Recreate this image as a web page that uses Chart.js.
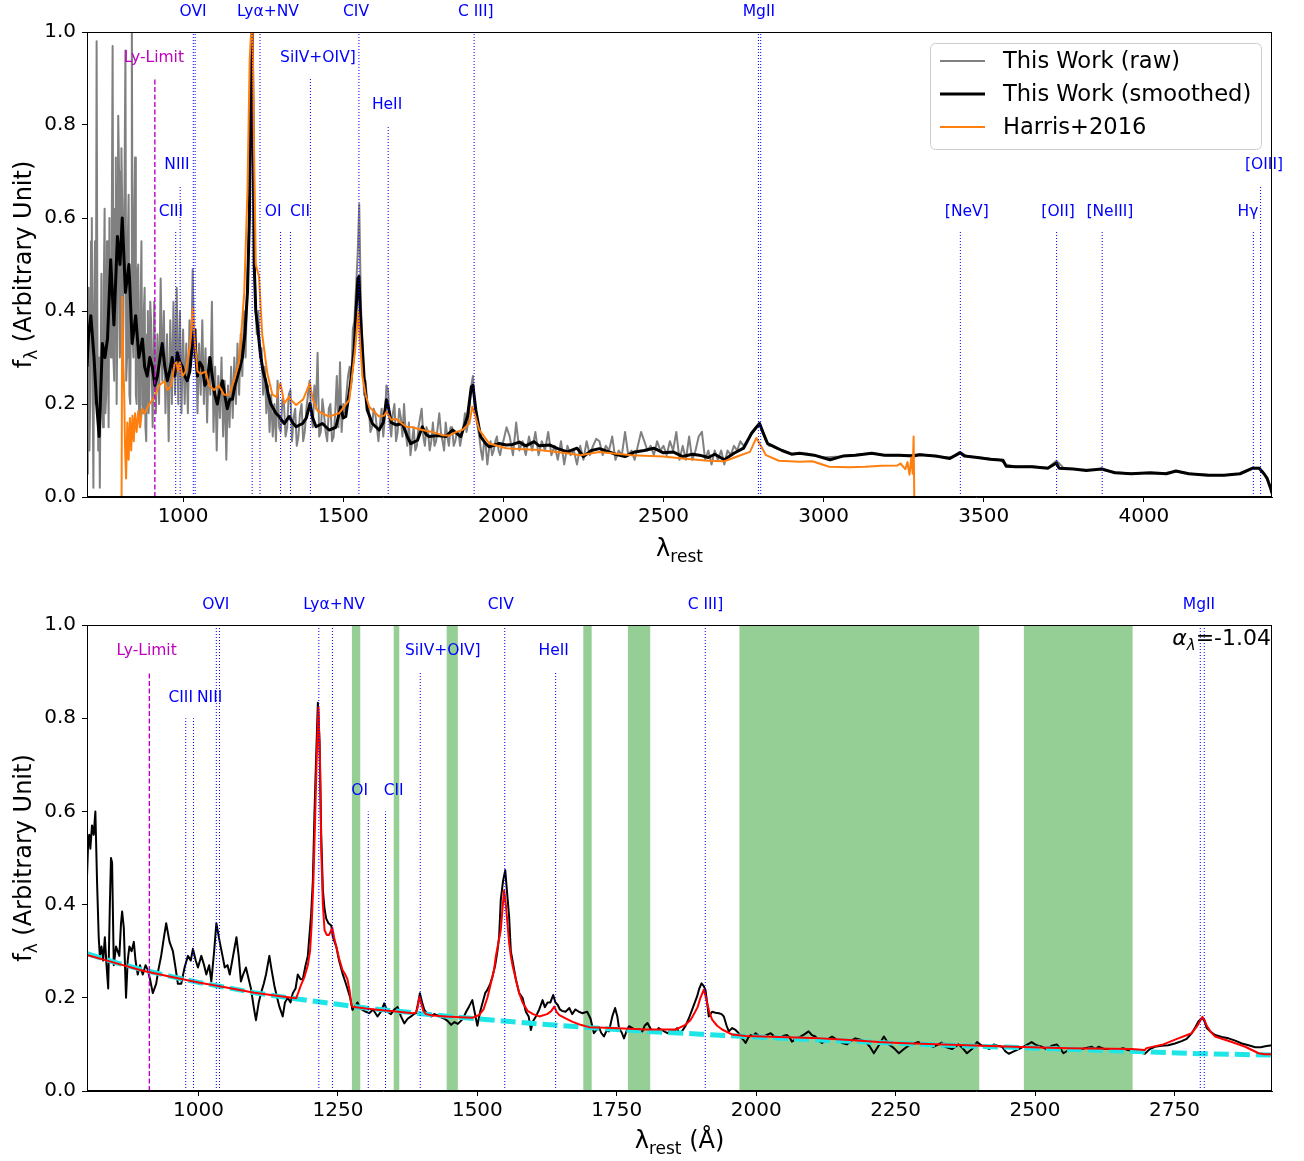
<!DOCTYPE html>
<html>
<head>
<meta charset="utf-8">
<script src="https://cdn.jsdelivr.net/npm/chart.js@4.4.0/dist/chart.umd.min.js"></script>
<style>
  html, body { margin: 0; padding: 0; background: #fff; }
  #top { position: absolute; left: 0; top: 0; width: 1304px; height: 575px; }
  #bot { position: absolute; left: 0; top: 575px; width: 1304px; height: 586px; }
</style>
</head>
<body>
<div id="top"><canvas id="cTop"></canvas></div>
<div id="bot"><canvas id="cBot"></canvas></div>
<script>
// ---- data: [wavelength (A), flux] ----
const rawTop = [
  [700,0.05],[702.5,0.30],[705,0.45],[707.5,0.10],[710,0.20],[712.5,0.55],[715,0.60],[717.5,0.25],[720,0.02],[722.5,0.40],
  [725,0.55],[727.5,0.20],[730,0.98],[732.5,0.35],[735,0.10],[737.5,0.30],[740,0.02],[742.5,0.25],[745,0.48],[747.5,0.20],
  [750,0.15],[752.5,0.45],[755,0.62],[757.5,0.18],[760,0.22],[762.5,0.55],[765,0.40],[767.5,0.15],[770,0.60],[772.5,0.35],
  [775,0.30],[777.5,0.60],[780,0.97],[782.5,0.30],[785,0.25],[787.5,0.62],[790,0.73],[792.5,0.20],[795,0.40],[797.5,0.82],
  [800,0.70],[802.5,0.30],[805,0.35],[807.5,0.75],[810,0.62],[812.5,0.30],[815,0.30],[817.5,0.70],[820,0.96],[822.5,0.25],
  [825,0.30],[827.5,0.55],[830,0.65],[832.5,0.22],[835,0.20],[837.5,0.45],[840,1.05],[842.5,0.35],[845,0.30],[847.5,0.60],
  [850,0.73],[852.5,0.22],[855,0.20],[857.5,0.48],[860,0.50],[862.5,0.18],[865,0.15],[867.5,0.42],[870,0.55],[872.5,0.20],
  [875,0.18],[877.5,0.40],[880,0.45],[882.5,0.15],[885,0.12],[887.5,0.35],[890,0.40],[892.5,0.18],[895,0.25],[897.5,0.42],
  [900,0.38],[905,0.15],[910,0.42],[915,0.18],[920,0.35],[925,0.20],[930,0.47],[935,0.25],[940,0.40],[945,0.18],
  [950,0.35],[955,0.12],[960,0.38],[965,0.20],[970,0.42],[975,0.22],[980,0.45],[985,0.20],[990,0.40],[995,0.18],
  [1000,0.36],[1005,0.20],[1010,0.33],[1015,0.18],[1020,0.38],[1025,0.28],[1030,0.49],[1035,0.30],[1040,0.36],[1045,0.18],
  [1050,0.33],[1055,0.22],[1060,0.38],[1065,0.20],[1070,0.32],[1075,0.16],[1080,0.30],[1085,0.22],[1090,0.42],[1095,0.14],
  [1100,0.28],[1105,0.10],[1110,0.26],[1115,0.17],[1120,0.30],[1125,0.13],[1130,0.25],[1135,0.08],[1140,0.24],[1145,0.15],
  [1150,0.28],[1155,0.17],[1160,0.30],[1165,0.20],[1170,0.33],[1175,0.22],[1180,0.35],[1185,0.26],[1190,0.40],[1195,0.30],
  [1200,0.45],[1205,0.55],[1210,0.85],[1215,1.05],[1220,0.70],[1225,0.45],[1230,0.35],[1235,0.40],[1240,0.30],[1245,0.32],
  [1250,0.22],[1255,0.28],[1260,0.18],[1265,0.24],[1270,0.14],[1275,0.22],[1280,0.13],[1285,0.20],[1290,0.12],[1295,0.25],
  [1300,0.15],[1305,0.14],[1310,0.21],[1315,0.20],[1320,0.13],[1325,0.15],[1330,0.22],[1335,0.23],[1340,0.12],[1345,0.17],
  [1350,0.19],[1355,0.11],[1360,0.13],[1365,0.18],[1370,0.20],[1375,0.12],[1380,0.14],[1385,0.19],[1390,0.22],[1395,0.25],
  [1400,0.18],[1405,0.15],[1410,0.24],[1415,0.19],[1420,0.31],[1425,0.13],[1430,0.14],[1435,0.21],[1440,0.18],[1445,0.14],
  [1450,0.12],[1455,0.19],[1460,0.20],[1465,0.12],[1470,0.13],[1475,0.18],[1480,0.26],[1485,0.15],[1490,0.29],[1495,0.14],
  [1500,0.20],[1505,0.18],[1510,0.22],[1515,0.26],[1520,0.28],[1525,0.24],[1530,0.36],[1535,0.38],[1540,0.45],[1545,0.52],
  [1550,0.63],[1555,0.42],[1560,0.32],[1565,0.22],[1570,0.25],[1575,0.20],[1580,0.19],[1585,0.14],[1590,0.15],[1595,0.19],
  [1600,0.18],[1605,0.15],[1610,0.12],[1615,0.16],[1620,0.19],[1625,0.13],[1630,0.17],[1635,0.24],[1640,0.23],[1645,0.16],
  [1650,0.13],[1655,0.18],[1660,0.20],[1665,0.12],[1670,0.14],[1675,0.19],[1680,0.17],[1685,0.13],[1690,0.20],[1695,0.14],
  [1700,0.11],[1705,0.16],[1710,0.09],[1715,0.12],[1720,0.15],[1725,0.10],[1730,0.11],[1735,0.15],[1740,0.17],[1745,0.19],
  [1750,0.13],[1755,0.11],[1760,0.15],[1765,0.14],[1770,0.10],[1775,0.12],[1780,0.16],[1785,0.11],[1790,0.12],[1795,0.15],
  [1800,0.18],[1805,0.14],[1810,0.12],[1815,0.10],[1820,0.16],[1825,0.13],[1830,0.11],[1835,0.15],[1840,0.15],[1845,0.11],
  [1850,0.12],[1855,0.14],[1860,0.14],[1865,0.11],[1870,0.13],[1875,0.15],[1880,0.18],[1885,0.14],[1890,0.16],[1895,0.20],
  [1900,0.24],[1905,0.26],[1910,0.20],[1915,0.17],[1920,0.15],[1925,0.13],[1930,0.10],[1935,0.08],[1940,0.12],[1945,0.11],
  [1950,0.07],[1955,0.10],[1960,0.12],[1965,0.09],[1970,0.10],[1975,0.12],[1980,0.13],[1985,0.10],[1990,0.09],[1995,0.11],
  [2000,0.12],[2010,0.15],[2020,0.13],[2030,0.09],[2040,0.16],[2050,0.10],[2060,0.12],[2070,0.09],[2080,0.13],[2090,0.10],
  [2100,0.14],[2110,0.09],[2120,0.12],[2130,0.10],[2140,0.14],[2150,0.09],[2160,0.11],[2170,0.08],[2180,0.12],[2190,0.07],
  [2200,0.11],[2210,0.09],[2220,0.10],[2230,0.07],[2240,0.11],[2250,0.08],[2260,0.12],[2270,0.09],[2280,0.11],[2290,0.125],
  [2300,0.12],[2310,0.09],[2320,0.11],[2330,0.10],[2340,0.13],[2350,0.08],[2360,0.10],[2370,0.09],[2380,0.14],[2390,0.09],
  [2400,0.10],[2410,0.08],[2420,0.11],[2430,0.14],[2440,0.12],[2450,0.10],[2460,0.11],[2470,0.09],[2480,0.12],[2490,0.10],
  [2500,0.11],[2510,0.09],[2520,0.12],[2530,0.10],[2540,0.14],[2550,0.08],[2560,0.11],[2570,0.08],[2580,0.13],[2590,0.08],
  [2600,0.10],[2610,0.13],[2620,0.14],[2630,0.08],[2640,0.10],[2650,0.07],[2660,0.10],[2670,0.08],[2680,0.10],[2690,0.07],
  [2700,0.10],[2710,0.09],[2720,0.11],[2730,0.10],[2740,0.12],[2750,0.11],[2760,0.12],[2770,0.13],[2780,0.14],[2790,0.15],
  [2800,0.16],[2810,0.14],[2820,0.12],[2830,0.11],[2840,0.11],[2850,0.105],[2900,0.093],[2950,0.093],[3000,0.085],[3050,0.087],
  [3100,0.091],[3150,0.094],[3200,0.089],[3250,0.089],[3300,0.092],[3350,0.087],[3400,0.085],[3425,0.097],[3450,0.087],[3500,0.084],
  [3550,0.080],[3570,0.070],[3600,0.065],[3650,0.066],[3700,0.063],[3727,0.078],[3750,0.062],[3800,0.059],[3850,0.058],[3870,0.062],
  [3900,0.054],[3950,0.051],[4000,0.051],[4050,0.050],[4100,0.055],[4150,0.050],[4200,0.048],[4250,0.047],[4300,0.050],[4340,0.063],
  [4360,0.063],[4380,0.045],[4395,0.020]
];

const smoothTop = [
  [700,0.28],[705,0.35],[712,0.39],[722,0.30],[730,0.20],[738,0.13],[748,0.33],[756,0.30],[764,0.34],[774,0.51],
  [784,0.37],[795,0.56],[803,0.50],[810,0.60],[820,0.44],[831,0.50],[841,0.33],[852,0.39],[862,0.30],[873,0.34],
  [880,0.28],[888,0.26],[896,0.30],[904,0.28],[912,0.24],[920,0.26],[928,0.30],[935,0.33],[943,0.28],[951,0.25],
  [958,0.27],[966,0.30],[974,0.26],[982,0.31],[990,0.29],[998,0.28],[1005,0.26],[1013,0.25],[1021,0.27],[1029,0.33],
  [1035,0.36],[1041,0.29],[1045,0.26],[1052,0.29],[1060,0.28],[1068,0.24],[1076,0.25],[1084,0.30],[1091,0.26],[1099,0.22],
  [1107,0.20],[1115,0.23],[1123,0.25],[1130,0.22],[1138,0.19],[1146,0.21],[1154,0.21],[1162,0.24],[1170,0.26],[1178,0.28],
  [1185,0.30],[1193,0.35],[1201,0.44],[1207,0.60],[1212,0.90],[1216,1.0],[1219,0.75],[1222,0.50],[1227,0.40],[1232,0.37],
  [1238,0.33],[1243,0.30],[1250,0.27],[1258,0.25],[1266,0.22],[1274,0.20],[1282,0.19],[1290,0.18],[1300,0.173],[1316,0.158],
  [1331,0.173],[1342,0.16],[1353,0.151],[1373,0.158],[1385,0.17],[1396,0.201],[1405,0.17],[1415,0.151],[1435,0.158],[1456,0.144],
  [1477,0.15],[1492,0.194],[1500,0.17],[1508,0.173],[1523,0.245],[1534,0.316],[1540,0.40],[1546,0.47],[1549,0.474],[1554,0.388],
  [1565,0.259],[1575,0.187],[1591,0.158],[1612,0.144],[1625,0.16],[1635,0.209],[1642,0.19],[1650,0.16],[1665,0.155],[1685,0.158],
  [1700,0.13],[1711,0.115],[1732,0.122],[1747,0.151],[1758,0.135],[1768,0.13],[1794,0.132],[1820,0.13],[1841,0.144],[1867,0.13],
  [1888,0.173],[1900,0.237],[1905,0.24],[1914,0.187],[1929,0.13],[1945,0.115],[1956,0.108],[1987,0.115],[2009,0.112],[2029,0.113],
  [2050,0.118],[2070,0.11],[2096,0.119],[2112,0.11],[2144,0.112],[2170,0.104],[2200,0.097],[2230,0.105],[2250,0.087],[2275,0.10],
  [2300,0.104],[2330,0.097],[2350,0.092],[2380,0.087],[2410,0.097],[2440,0.10],[2470,0.105],[2500,0.095],[2530,0.097],[2560,0.087],
  [2590,0.092],[2612,0.09],[2640,0.085],[2660,0.092],[2690,0.08],[2720,0.094],[2750,0.105],[2775,0.137],[2790,0.15],[2800,0.158],
  [2810,0.14],[2825,0.115],[2840,0.11],[2870,0.10],[2900,0.092],[2925,0.094],[2970,0.09],[3020,0.08],[3060,0.088],[3100,0.09],
  [3150,0.094],[3190,0.09],[3237,0.09],[3280,0.088],[3300,0.091],[3350,0.088],[3394,0.083],[3426,0.095],[3440,0.088],[3480,0.085],
  [3520,0.081],[3560,0.079],[3570,0.066],[3600,0.065],[3650,0.065],[3700,0.062],[3727,0.073],[3735,0.062],[3780,0.06],[3820,0.057],
  [3868,0.06],[3910,0.052],[3960,0.05],[4020,0.052],[4070,0.05],[4100,0.056],[4140,0.05],[4200,0.047],[4250,0.047],[4300,0.05],
  [4340,0.062],[4360,0.062],[4375,0.05],[4385,0.04],[4395,0.02],[4400,0.008]
];

const harrisTop = [
  [700,0],[808,0],[810,0.43],[813,0.30],[816,0.226],[819,0.10],[822,0.04],[826,0.16],[830,0.08],[834,0.17],
  [838,0.10],[842,0.175],[846,0.12],[850,0.18],[855,0.14],[860,0.185],[866,0.15],[872,0.19],[880,0.18],[890,0.195],
  [900,0.205],[909,0.212],[925,0.24],[941,0.249],[951,0.23],[963,0.24],[973,0.284],[979,0.29],[984,0.27],[990,0.29],
  [998,0.26],[1008,0.27],[1022,0.327],[1030,0.406],[1037,0.33],[1045,0.27],[1055,0.265],[1071,0.27],[1081,0.24],[1097,0.23],
  [1112,0.24],[1128,0.22],[1144,0.22],[1159,0.25],[1175,0.29],[1191,0.44],[1201,0.657],[1208,0.94],[1216,1.05],[1222,0.73],
  [1227,0.50],[1237,0.474],[1247,0.35],[1263,0.266],[1279,0.22],[1292,0.215],[1300,0.237],[1304,0.245],[1316,0.201],[1331,0.216],
  [1335,0.21],[1353,0.198],[1375,0.21],[1390,0.235],[1396,0.245],[1405,0.21],[1420,0.185],[1456,0.173],[1487,0.18],[1519,0.209],
  [1537,0.316],[1547,0.399],[1553,0.33],[1560,0.259],[1570,0.22],[1581,0.194],[1612,0.173],[1628,0.175],[1635,0.183],[1650,0.166],
  [1665,0.168],[1697,0.151],[1716,0.15],[1747,0.144],[1778,0.14],[1809,0.133],[1831,0.132],[1853,0.14],[1872,0.144],[1894,0.158],
  [1903,0.194],[1910,0.18],[1925,0.144],[1956,0.115],[2009,0.105],[2050,0.103],[2112,0.101],[2200,0.094],[2240,0.09],[2300,0.097],
  [2400,0.09],[2500,0.087],[2560,0.083],[2640,0.078],[2690,0.077],[2730,0.087],[2770,0.097],[2790,0.127],[2800,0.115],[2820,0.09],
  [2860,0.078],[2925,0.076],[2965,0.077],[3017,0.065],[3080,0.064],[3130,0.065],[3180,0.067],[3230,0.068],[3240,0.072],[3255,0.06],
  [3262,0.075],[3268,0.048],[3274,0.085],[3278,0.05],[3281,0.13],[3283,0],[3980,0]
];

const smoothBot = [
  [800,0.46],[802,0.53],[804,0.55],[806,0.52],[809,0.57],[812,0.55],[815,0.60],[818,0.45],[821,0.33],[823,0.29],
  [826,0.31],[829,0.28],[832,0.33],[835,0.27],[838,0.22],[841,0.40],[843,0.50],[845,0.49],[848,0.27],[852,0.31],
  [855,0.30],[858,0.29],[861,0.36],[863,0.385],[866,0.35],[870,0.20],[873,0.28],[876,0.31],[880,0.30],[884,0.32],
  [887,0.28],[891,0.25],[895,0.27],[900,0.25],[905,0.27],[909,0.26],[913,0.24],[918,0.21],[924,0.23],[928,0.26],
  [933,0.29],[938,0.33],[942,0.36],[945,0.34],[948,0.32],[954,0.30],[958,0.27],[963,0.23],[969,0.23],[975,0.265],
  [981,0.29],[986,0.28],[990,0.305],[995,0.28],[999,0.265],[1005,0.29],[1010,0.27],[1014,0.25],[1019,0.27],[1023,0.235],
  [1028,0.30],[1032,0.36],[1035,0.34],[1038,0.32],[1043,0.29],[1047,0.265],[1052,0.27],[1056,0.25],[1062,0.29],[1068,0.33],
  [1072,0.29],[1076,0.235],[1080,0.25],[1085,0.265],[1090,0.24],[1094,0.22],[1099,0.18],[1103,0.152],[1108,0.19],[1112,0.21],
  [1117,0.23],[1121,0.25],[1127,0.29],[1131,0.26],[1136,0.226],[1141,0.20],[1145,0.181],[1151,0.16],[1155,0.19],[1160,0.20],
  [1165,0.19],[1169,0.21],[1174,0.22],[1178,0.25],[1183,0.24],[1187,0.24],[1192,0.27],[1196,0.29],[1202,0.38],[1205,0.45],
  [1208,0.60],[1211,0.72],[1214,0.833],[1217,0.75],[1220,0.55],[1223,0.43],[1226,0.39],[1229,0.37],[1233,0.36],[1238,0.355],
  [1241,0.33],[1244,0.32],[1247,0.31],[1252,0.28],[1258,0.253],[1263,0.235],[1267,0.22],[1272,0.20],[1276,0.174],[1280,0.18],
  [1285,0.19],[1290,0.177],[1294,0.174],[1300,0.17],[1306,0.167],[1313,0.175],[1321,0.16],[1327,0.17],[1333,0.188],[1339,0.17],
  [1345,0.165],[1351,0.175],[1357,0.18],[1363,0.16],[1369,0.145],[1375,0.155],[1381,0.16],[1386,0.165],[1390,0.167],[1394,0.19],
  [1397,0.21],[1401,0.19],[1405,0.174],[1411,0.165],[1417,0.16],[1423,0.165],[1429,0.162],[1435,0.158],[1441,0.155],[1447,0.15],
  [1453,0.142],[1459,0.148],[1465,0.144],[1470,0.15],[1474,0.155],[1480,0.17],[1485,0.181],[1491,0.195],[1495,0.17],[1500,0.14],
  [1505,0.17],[1509,0.188],[1514,0.21],[1518,0.217],[1523,0.23],[1527,0.245],[1532,0.27],[1536,0.30],[1539,0.33],[1542,0.41],
  [1546,0.45],[1550,0.474],[1553,0.43],[1557,0.374],[1560,0.30],[1563,0.28],[1569,0.24],[1575,0.21],[1581,0.20],[1587,0.17],
  [1592,0.16],[1596,0.131],[1600,0.15],[1605,0.16],[1611,0.175],[1617,0.195],[1621,0.18],[1626,0.19],[1631,0.19],[1636,0.206],
  [1640,0.19],[1644,0.185],[1648,0.175],[1652,0.172],[1658,0.17],[1665,0.178],[1670,0.165],[1676,0.175],[1682,0.17],[1688,0.167],
  [1697,0.17],[1703,0.155],[1709,0.124],[1713,0.13],[1718,0.137],[1722,0.125],[1727,0.117],[1732,0.13],[1736,0.128],[1742,0.16],
  [1747,0.178],[1751,0.16],[1754,0.135],[1759,0.125],[1763,0.113],[1768,0.13],[1772,0.139],[1778,0.135],[1784,0.13],[1790,0.133],
  [1796,0.128],[1800,0.14],[1805,0.146],[1810,0.135],[1814,0.128],[1820,0.125],[1825,0.135],[1829,0.132],[1835,0.128],[1841,0.124],
  [1847,0.13],[1853,0.128],[1858,0.135],[1862,0.124],[1868,0.13],[1873,0.139],[1879,0.155],[1885,0.174],[1890,0.19],[1894,0.203],
  [1898,0.22],[1902,0.231],[1906,0.225],[1909,0.217],[1912,0.19],[1915,0.16],[1918,0.165],[1921,0.17],[1927,0.168],[1933,0.167],
  [1938,0.165],[1942,0.16],[1947,0.14],[1951,0.128],[1957,0.135],[1963,0.131],[1968,0.125],[1972,0.117],[1977,0.11],[1981,0.103],
  [1986,0.115],[1990,0.12],[1995,0.118],[1999,0.124],[2005,0.118],[2011,0.113],[2018,0.12],[2026,0.124],[2033,0.117],[2041,0.113],
  [2048,0.118],[2055,0.12],[2060,0.115],[2064,0.106],[2072,0.112],[2080,0.117],[2087,0.122],[2094,0.128],[2100,0.12],[2106,0.117],
  [2112,0.108],[2118,0.103],[2127,0.11],[2136,0.117],[2145,0.11],[2154,0.103],[2163,0.10],[2170,0.108],[2178,0.113],[2187,0.11],
  [2196,0.106],[2204,0.095],[2211,0.081],[2220,0.098],[2229,0.117],[2238,0.10],[2247,0.092],[2256,0.081],[2265,0.09],[2274,0.098],
  [2283,0.102],[2291,0.105],[2300,0.10],[2309,0.098],[2318,0.095],[2327,0.10],[2333,0.104],[2339,0.095],[2351,0.09],[2363,0.10],
  [2370,0.092],[2378,0.081],[2387,0.09],[2396,0.105],[2404,0.098],[2411,0.095],[2418,0.09],[2426,0.10],[2433,0.097],[2441,0.095],
  [2447,0.085],[2453,0.08],[2462,0.085],[2471,0.09],[2482,0.097],[2494,0.105],[2503,0.098],[2512,0.095],[2520,0.09],[2530,0.097],
  [2539,0.10],[2545,0.092],[2551,0.081],[2560,0.088],[2569,0.09],[2578,0.088],[2590,0.092],[2602,0.095],[2608,0.09],[2614,0.095],
  [2625,0.09],[2637,0.09],[2647,0.088],[2658,0.092],[2666,0.088],[2673,0.087],[2685,0.085],[2697,0.08],[2706,0.09],[2715,0.095],
  [2727,0.097],[2739,0.098],[2751,0.102],[2763,0.107],[2772,0.112],[2781,0.124],[2788,0.138],[2793,0.149],[2800,0.157],[2804,0.15],
  [2808,0.135],[2815,0.127],[2823,0.12],[2835,0.116],[2847,0.113],[2859,0.108],[2871,0.102],[2883,0.098],[2895,0.094],[2905,0.094],
  [2913,0.096],[2925,0.098]
];

const modelBot = [
  [800,0.292],[850,0.275],[900,0.258],[950,0.245],[1000,0.233],[1050,0.222],[1100,0.211],[1150,0.203],[1175,0.199],[1177,0.205],
  [1183,0.225],[1190,0.245],[1196,0.27],[1200,0.30],[1203,0.36],[1206,0.45],[1209,0.58],[1212,0.72],[1215,0.824],[1218,0.70],
  [1220,0.52],[1223,0.40],[1226,0.345],[1230,0.335],[1234,0.335],[1238,0.345],[1240,0.35],[1243,0.33],[1247,0.31],[1252,0.285],
  [1258,0.26],[1263,0.25],[1267,0.24],[1271,0.215],[1274,0.185],[1276,0.181],[1300,0.177],[1324,0.174],[1350,0.171],[1384,0.167],
  [1390,0.168],[1393,0.18],[1396,0.202],[1399,0.19],[1403,0.172],[1408,0.165],[1420,0.162],[1443,0.16],[1470,0.158],[1491,0.157],
  [1503,0.163],[1511,0.175],[1518,0.20],[1525,0.235],[1530,0.26],[1533,0.288],[1538,0.32],[1542,0.345],[1545,0.39],[1548,0.431],
  [1551,0.40],[1554,0.36],[1557,0.317],[1560,0.29],[1563,0.27],[1569,0.24],[1575,0.21],[1581,0.19],[1590,0.172],[1600,0.165],
  [1611,0.16],[1625,0.165],[1632,0.171],[1638,0.181],[1642,0.17],[1647,0.163],[1660,0.155],[1670,0.149],[1685,0.142],[1700,0.137],
  [1742,0.135],[1802,0.132],[1856,0.132],[1873,0.142],[1882,0.152],[1888,0.164],[1895,0.18],[1900,0.20],[1906,0.217],[1909,0.205],
  [1912,0.189],[1916,0.17],[1921,0.153],[1930,0.14],[1939,0.132],[1957,0.121],[1981,0.118],[2041,0.116],[2100,0.114],[2160,0.11],
  [2220,0.105],[2256,0.103],[2350,0.099],[2461,0.095],[2560,0.092],[2673,0.09],[2697,0.088],[2700,0.092],[2730,0.10],[2757,0.113],
  [2781,0.124],[2790,0.138],[2795,0.148],[2800,0.159],[2804,0.152],[2808,0.14],[2815,0.127],[2823,0.117],[2853,0.105],[2877,0.095],
  [2901,0.081],[2912,0.079],[2925,0.079]
];

const contBot = [
  [800,0.295],[850,0.276],[900,0.260],[950,0.246],[1000,0.233],[1050,0.222],[1100,0.211],[1150,0.202],[1200,0.194],[1250,0.186],
  [1300,0.178],[1350,0.172],[1400,0.166],[1450,0.160],[1500,0.155],[1600,0.145],[1700,0.136],[1800,0.128],[1900,0.122],[2000,0.116],
  [2100,0.110],[2200,0.105],[2300,0.100],[2400,0.096],[2500,0.092],[2600,0.088],[2700,0.084],[2800,0.080],[2925,0.077]
];

// continuum fit windows (A)
const fitWindows = [[1275,1290],[1350,1360],[1445,1465],[1690,1705],[1770,1810],[1970,2400],[2480,2675]];

// emission lines: rest wavelengths, line top, label anchor
const linesTop = [
  { name: 'Ly-Limit', waves: [911.8], top: 0.90, lx: 909, ly: 0.944, limit: true },
  { name: 'CIII', waves: [977.0], top: 0.57, lx: 962, ly: 0.613 },
  { name: 'NIII', waves: [990.9], top: 0.67, lx: 981, ly: 0.714 },
  { name: 'OVI', waves: [1031.9, 1037.6], top: 1.0, lx: 1031, ly: 1.043 },
  { name: 'Ly\u03b1+NV', waves: [1215.7, 1240.1], top: 1.0, lx: 1265, ly: 1.043 },
  { name: 'OI', waves: [1304.4], top: 0.57, lx: 1281, ly: 0.613 },
  { name: 'CII', waves: [1335.3], top: 0.57, lx: 1365, ly: 0.613 },
  { name: 'SiIV+OIV]', waves: [1397.6], top: 0.90, lx: 1421, ly: 0.944 },
  { name: 'CIV', waves: [1549.1], top: 1.0, lx: 1540, ly: 1.043 },
  { name: 'HeII', waves: [1640.4], top: 0.80, lx: 1637, ly: 0.843 },
  { name: 'C III]', waves: [1908.7], top: 1.0, lx: 1914, ly: 1.043 },
  { name: 'MgII', waves: [2796.4, 2803.5], top: 1.0, lx: 2798, ly: 1.043 },
  { name: '[NeV]', waves: [3426.9], top: 0.57, lx: 3447, ly: 0.613 },
  { name: '[OII]', waves: [3727.4], top: 0.57, lx: 3732, ly: 0.613 },
  { name: '[NeIII]', waves: [3869.8], top: 0.57, lx: 3894, ly: 0.613 },
  { name: 'H\u03b3', waves: [4341.7], top: 0.57, lx: 4325, ly: 0.613 },
  { name: '[OIII]', waves: [4364.4], top: 0.67, lx: 4375, ly: 0.714 }
];
const linesBot = [
  { name: 'Ly-Limit', waves: [911.8], top: 0.90, lx: 907, ly: 0.944, limit: true },
  { name: 'CIII', waves: [977.0], top: 0.80, lx: 968, ly: 0.843 },
  { name: 'NIII', waves: [990.9], top: 0.80, lx: 1020, ly: 0.843 },
  { name: 'OVI', waves: [1031.9, 1037.6], top: 1.0, lx: 1031, ly: 1.043 },
  { name: 'Ly\u03b1+NV', waves: [1215.7, 1240.1], top: 1.0, lx: 1243, ly: 1.043 },
  { name: 'OI', waves: [1304.4], top: 0.60, lx: 1289, ly: 0.644 },
  { name: 'CII', waves: [1335.3], top: 0.60, lx: 1350, ly: 0.644 },
  { name: 'SiIV+OIV]', waves: [1397.6], top: 0.90, lx: 1438, ly: 0.944 },
  { name: 'CIV', waves: [1549.1], top: 1.0, lx: 1542, ly: 1.043 },
  { name: 'HeII', waves: [1640.4], top: 0.90, lx: 1637, ly: 0.944 },
  { name: 'C III]', waves: [1908.7], top: 1.0, lx: 1909, ly: 1.043 },
  { name: 'MgII', waves: [2796.4, 2803.5], top: 1.0, lx: 2794, ly: 1.043 }
];

const topXTicks = [1000, 1500, 2000, 2500, 3000, 3500, 4000];
const botXTicks = [1000, 1250, 1500, 1750, 2000, 2250, 2500, 2750];
const yTicks = [0, 0.2, 0.4, 0.6, 0.8, 1.0];
const alphaLambda = -1.04;

// ---- drawing ----
const FONT = "'DejaVu Sans', sans-serif";
const BLUE = '#0000ff', MAGENTA = '#bf00bf';

const pts = arr => arr.map(([x, y]) => ({ x, y }));

function lineSets(lines) {
  const out = [];
  lines.forEach(l => l.waves.forEach(w => out.push({
    data: [{ x: w, y: 0 }, { x: w, y: l.top }],
    borderColor: l.limit ? MAGENTA : BLUE,
    borderWidth: l.limit ? 1.4 : 1,
    borderDash: l.limit ? [5, 2.5] : [1, 2],
    pointRadius: 0, order: 1
  })));
  return out;
}

// text with subscript pieces: [text, isSub, isItalic]
function rich(ctx, parts, x, y, size, align) {
  const sub = Math.round(size * 0.7);
  const f = (p) => `${p[2] ? 'italic ' : ''}${p[1] ? sub : size}px ${FONT}`;
  let w = 0;
  parts.forEach(p => { ctx.font = f(p); w += ctx.measureText(p[0]).width; });
  let cx = align === 'right' ? x - w : align === 'center' ? x - w / 2 : x;
  ctx.textAlign = 'left';
  parts.forEach(p => {
    ctx.font = f(p);
    ctx.fillText(p[0], cx, p[1] ? y + size * 0.24 : y);
    cx += ctx.measureText(p[0]).width;
  });
}

function deco(cfg) {
  return {
    id: 'deco',
    beforeDatasetsDraw(chart) {
      if (!cfg.spans) return;
      const { ctx, chartArea: a, scales: { x } } = chart;
      ctx.save();
      ctx.fillStyle = '#95cf95';
      cfg.spans.forEach(([s, e]) => {
        const x0 = x.getPixelForValue(s), x1 = x.getPixelForValue(e);
        ctx.fillRect(x0, a.top, x1 - x0, a.bottom - a.top);
      });
      ctx.restore();
    },
    afterDraw(chart) {
      const { ctx, chartArea: a, scales: { x, y } } = chart;
      ctx.save();
      ctx.strokeStyle = '#000';
      ctx.lineWidth = 1;
      ctx.strokeRect(a.left + 0.5, a.top + 0.5, a.right - a.left - 1, a.bottom - a.top - 1);

      ctx.textBaseline = 'middle';
      ctx.textAlign = 'center';
      ctx.font = `15.5px ${FONT}`;
      cfg.lines.forEach(l => {
        ctx.fillStyle = l.limit ? MAGENTA : BLUE;
        ctx.fillText(l.name, x.getPixelForValue(l.lx), y.getPixelForValue(l.ly));
      });

      ctx.fillStyle = '#000';
      ctx.textBaseline = 'alphabetic';
      rich(ctx, cfg.xTitle, (a.left + a.right) / 2, cfg.xTitleY, 24, 'center');
      ctx.save();
      ctx.translate(31, (a.top + a.bottom) / 2);
      ctx.rotate(-Math.PI / 2);
      rich(ctx, [['f', false], ['\u03bb', true], [' (Arbitrary Unit)', false]], 0, 0, 24, 'center');
      ctx.restore();

      if (cfg.alpha !== undefined) {
        rich(ctx, [['\u03b1', false, true], ['\u03bb', true, true], ['=' + cfg.alpha.toFixed(2), false]],
          a.right - 1, a.top + 20, 22, 'right');
      }

      if (cfg.legend) {
        const bx = 930, by = 43, bw = 331, bh = 106, r = 5;
        ctx.fillStyle = 'rgba(255,255,255,0.8)';
        ctx.strokeStyle = '#cccccc';
        ctx.lineWidth = 1;
        ctx.beginPath();
        ctx.roundRect(bx + 0.5, by + 0.5, bw, bh, r);
        ctx.fill();
        ctx.stroke();
        cfg.legend.forEach((it, i) => {
          const ly = 61 + i * 33;
          ctx.strokeStyle = it.color;
          ctx.lineWidth = it.width;
          ctx.beginPath();
          ctx.moveTo(940, ly);
          ctx.lineTo(985, ly);
          ctx.stroke();
          ctx.fillStyle = '#000';
          ctx.font = `22.6px ${FONT}`;
          ctx.textAlign = 'left';
          ctx.textBaseline = 'middle';
          ctx.fillText(it.label, 1003, ly + 1);
        });
      }
      ctx.restore();
    }
  };
}

function scales(xMin, xMax, xTicks, xH) {
  const tickFont = { family: FONT, size: 20 };
  return {
    x: {
      type: 'linear', min: xMin, max: xMax,
      afterBuildTicks: s => { s.ticks = xTicks.map(v => ({ value: v })); },
      afterFit: s => { s.height = xH; },
      grid: { drawOnChartArea: false, drawTicks: true, tickLength: 5, color: '#000' },
      border: { display: true, color: '#000' },
      ticks: { color: '#000', font: tickFont, padding: 3, maxRotation: 0, autoSkip: false, callback: v => String(v) }
    },
    y: {
      type: 'linear', min: 0, max: 1,
      afterBuildTicks: s => { s.ticks = yTicks.map(v => ({ value: v })); },
      afterFit: s => { s.width = 87; },
      grid: { drawOnChartArea: false, drawTicks: true, tickLength: 5, color: '#000' },
      border: { display: true, color: '#000' },
      ticks: { color: '#000', font: tickFont, padding: 6, callback: v => v.toFixed(1) }
    }
  };
}

const base = (padTop) => ({
  responsive: true, maintainAspectRatio: false, animation: false, devicePixelRatio: 1,
  layout: { padding: { top: padTop, right: 32, left: 0, bottom: 0 } },
  plugins: { legend: { display: false }, tooltip: { enabled: false } },
  elements: { point: { radius: 0 }, line: { tension: 0, borderJoinStyle: 'round' } }
});

new Chart(document.getElementById('cTop'), {
  type: 'line',
  data: {
    datasets: [
      ...lineSets(linesTop),
      { label: 'Harris+2016', data: pts(harrisTop), borderColor: '#ff7f0e', borderWidth: 2, order: 2 },
      { label: 'This Work (smoothed)', data: pts(smoothTop), borderColor: '#000', borderWidth: 3, order: 3 },
      { label: 'This Work (raw)', data: pts(rawTop), borderColor: '#808080', borderWidth: 2, order: 4 }
    ]
  },
  options: Object.assign(base(32), { scales: scales(700, 4400, topXTicks, 78) }),
  plugins: [deco({
    lines: linesTop, xTitle: [['\u03bb', false], ['rest', true]], xTitleY: 556,
    legend: [
      { label: 'This Work (raw)', color: '#808080', width: 2 },
      { label: 'This Work (smoothed)', color: '#000', width: 3 },
      { label: 'Harris+2016', color: '#ff7f0e', width: 2 }
    ]
  })]
});

new Chart(document.getElementById('cBot'), {
  type: 'line',
  data: {
    datasets: [
      ...lineSets(linesBot),
      { label: 'model', data: pts(modelBot), borderColor: '#ff0000', borderWidth: 2, order: 2 },
      { label: 'continuum', data: pts(contBot), borderColor: '#1ee6e6', borderWidth: 5, borderDash: [15, 6], order: 3 },
      { label: 'spectrum', data: pts(smoothBot), borderColor: '#000', borderWidth: 2, order: 4 }
    ]
  },
  options: Object.assign(base(50), { scales: scales(800, 2925, botXTicks, 70) }),
  plugins: [deco({
    lines: linesBot, spans: fitWindows, alpha: alphaLambda,
    xTitle: [['\u03bb', false], ['rest', true], [' (\u00c5)', false]], xTitleY: 573
  })]
});
</script>
</body>
</html>
